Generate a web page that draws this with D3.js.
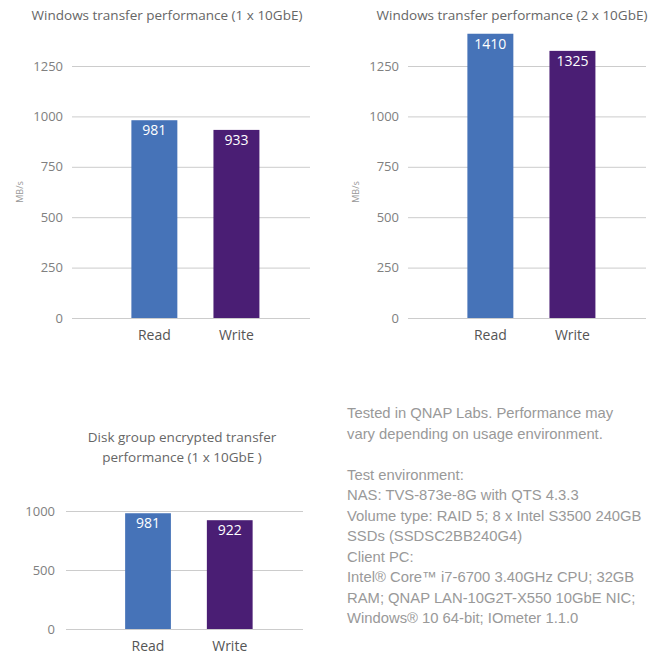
<!DOCTYPE html>
<html lang="en">
<head>
    <meta charset="UTF-8">
    <title>QNAP transfer performance</title>
    <script src="https://d3js.org/d3.v7.min.js"></script>
    <style>
        body { margin: 0; background: #fff; }
        svg { display: block; }
        .tick line { stroke: #ccc; }
        .tick text { fill: #808080; font-size: 13px; font-family: "Open Sans", sans-serif; }
    </style>
</head>
<body>
    <svg id="chart" width="649" height="654"></svg>

    <script>
        // data
        const categories = ["Read", "Write"];
        const win1Values = [981, 933];
        const win2Values = [1410, 1325];
        const encValues = [981, 922];
        const winTicks = [0, 250, 500, 750, 1000, 1250];
        const encTicks = [0, 500, 1000];
        const win1Title = ["Windows transfer performance (1 x 10GbE)"];
        const win2Title = ["Windows transfer performance (2 x 10GbE)"];
        const encTitle = ["Disk group encrypted transfer", "performance (1 x 10GbE )"];
        const noteLines = [
            "Tested in QNAP Labs. Performance may",
            "vary depending on usage environment.",
            "",
            "Test environment:",
            "NAS: TVS-873e-8G with QTS 4.3.3",
            "Volume type: RAID 5; 8 x Intel S3500 240GB",
            "SSDs (SSDSC2BB240G4)",
            "Client PC:",
            "Intel\u00AE Core\u2122 i7-6700 3.40GHz CPU; 32GB",
            "RAM; QNAP LAN-10G2T-X550 10GbE NIC;",
            "Windows\u00AE 10 64-bit; IOmeter 1.1.0"
        ];

        var colors = ["#4673b8", "#4a1e74"];
        var svg = d3.select("#chart");

        function drawChart(opt) {
            var x = d3.scaleBand()
                .domain(categories)
                .range([opt.left, opt.right])
                .paddingInner(0.44)
                .paddingOuter(0.67)
                .align(0.54);

            var y = d3.scaleLinear()
                .domain([0, d3.max(opt.ticks)])
                .range([opt.bottom, opt.top]);

            var g = svg.append("g");

            var yAxis = g.append("g")
                .attr("transform", "translate(" + opt.left + ",0)")
                .call(d3.axisLeft(y).tickValues(opt.ticks).tickFormat(d3.format("d"))
                    .tickSize(-(opt.right - opt.left)).tickPadding(opt.pad));
            yAxis.select(".domain").remove();

            g.selectAll(".bar")
                .data(opt.values)
                .enter().append("rect")
                .attr("class", "bar")
                .attr("x", (d, i) => x(categories[i]))
                .attr("y", d => y(d))
                .attr("width", x.bandwidth())
                .attr("height", d => opt.bottom - y(d))
                .attr("fill", (d, i) => colors[i]);

            g.selectAll(".val")
                .data(opt.values)
                .enter().append("text")
                .attr("x", (d, i) => x(categories[i]) + x.bandwidth() / 2)
                .attr("y", d => y(d) + 15)
                .attr("text-anchor", "middle")
                .attr("fill", "#fff")
                .style("font", "14px 'Open Sans', sans-serif")
                .text(d => d);

            g.selectAll(".cat")
                .data(categories)
                .enter().append("text")
                .attr("x", d => x(d) + x.bandwidth() / 2)
                .attr("y", opt.bottom + 22)
                .attr("text-anchor", "middle")
                .attr("fill", "#555")
                .style("font", "14px 'Open Sans', sans-serif")
                .text(d => d);

            g.selectAll(".title")
                .data(opt.title)
                .enter().append("text")
                .attr("x", opt.titleX)
                .attr("y", (d, i) => opt.titleY + i * 20)
                .attr("text-anchor", "middle")
                .attr("fill", "#666")
                .style("font", "13.5px 'Open Sans', sans-serif")
                .text(d => d);

            if (opt.unit) {
                g.append("text")
                    .attr("transform", "translate(" + (opt.left - 49) + "," + ((opt.top + opt.bottom) / 2) + ") rotate(-90)")
                    .attr("text-anchor", "middle")
                    .attr("fill", "#999")
                    .style("font", "9px 'Open Sans', sans-serif")
                    .text(opt.unit);
            }
        }

        drawChart({ values: win1Values, ticks: winTicks, title: win1Title, unit: "MB/s",
            left: 72, right: 310, top: 66, bottom: 318, pad: 9, titleX: 167, titleY: 20 });
        drawChart({ values: win2Values, ticks: winTicks, title: win2Title, unit: "MB/s",
            left: 408, right: 646, top: 66, bottom: 318, pad: 9, titleX: 512, titleY: 20 });
        drawChart({ values: encValues, ticks: encTicks, title: encTitle, unit: null,
            left: 66, right: 303, top: 511, bottom: 629, pad: 11, titleX: 182, titleY: 442 });

        svg.append("g").selectAll("text")
            .data(noteLines)
            .enter().append("text")
            .attr("x", 347)
            .attr("y", (d, i) => 418 + i * 20.5)
            .attr("fill", "#999")
            .style("font", "14.8px 'Liberation Sans', Arial, sans-serif")
            .text(d => d);
    </script>
</body>
</html>
